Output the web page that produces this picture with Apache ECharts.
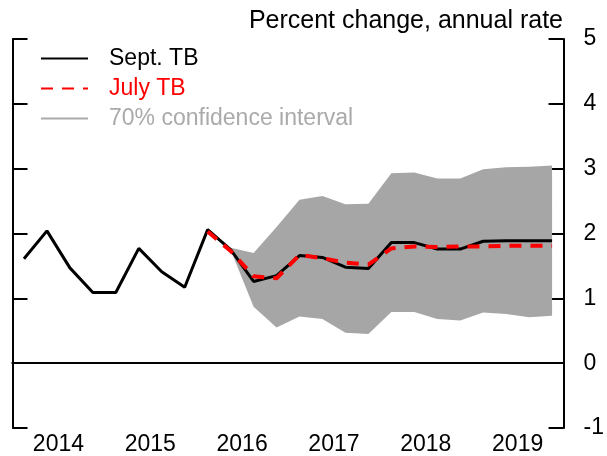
<!DOCTYPE html>
<html>
<head>
<meta charset="utf-8">
<script src="https://cdn.jsdelivr.net/npm/echarts@6/dist/echarts.min.js"></script>
<style>
  html, body { margin: 0; padding: 0; background: #fff; }
  #chart { width: 607px; height: 456px; }
</style>
</head>
<body>
<div id="chart"></div>
<script>
// quarterly categories, 2014Q1 .. 2019Q4
const quarters = [
  '2014Q1','2014Q2','2014Q3','2014Q4','2015Q1','2015Q2','2015Q3','2015Q4',
  '2016Q1','2016Q2','2016Q3','2016Q4','2017Q1','2017Q2','2017Q3','2017Q4',
  '2018Q1','2018Q2','2018Q3','2018Q4','2019Q1','2019Q2','2019Q3','2019Q4',
];
const years = ['2014', '2015', '2016', '2017', '2018', '2019'];

const septTB = [1.61, 2.04, 1.47, 1.09, 1.09, 1.77, 1.41, 1.17,
                2.06, 1.75, 1.26, 1.35, 1.66, 1.63, 1.48, 1.46,
                1.86, 1.86, 1.76, 1.76, 1.88, 1.89, 1.89, 1.89];
const julyTB = [null, null, null, null, null, null, null, null,
                2.03, 1.73, 1.34, 1.31, 1.67, 1.62, 1.55, 1.52,
                1.77, 1.80, 1.79, 1.80, 1.80, 1.81, 1.81, 1.81];
// 70% confidence interval
const bandUpper = [null, null, null, null, null, null, null, null,
                   null, 1.78, 1.70, 2.10, 2.52, 2.58, 2.45, 2.46,
                   2.93, 2.94, 2.85, 2.85, 2.99, 3.02, 3.03, 3.05];
const bandLower = [null, null, null, null, null, null, null, null,
                   null, 1.75, 0.87, 0.55, 0.72, 0.68, 0.47, 0.45,
                   0.79, 0.79, 0.68, 0.66, 0.78, 0.76, 0.71, 0.73];

const FONT = 'Liberation Sans, Arial, sans-serif';
const GRAY = '#a6a6a6';

const lowerData = bandLower.map(v => v == null ? '-' : v);
const spanData  = bandUpper.map((v, i) => v == null ? '-' : +(v - bandLower[i]).toFixed(3));

const chart = echarts.init(document.getElementById('chart'), null, { renderer: 'canvas' });

chart.setOption({
  animation: false,
  backgroundColor: '#fff',
  textStyle: { fontFamily: FONT },
  title: {
    text: 'Percent change, annual rate',
    right: 44, top: 9, padding: 0,
    textStyle: { fontSize: 25, fontWeight: 'normal', color: '#000', fontFamily: FONT },
  },
  legend: {
    orient: 'vertical',
    left: 40, top: 47, padding: 0,
    itemWidth: 47, itemHeight: 14, itemGap: 7,
    itemStyle: { opacity: 0 },
    textStyle: { fontSize: 23, fontFamily: FONT, padding: [0, 0, 0, 16] },
    data: [
      { name: 'Sept. TB', textStyle: { color: '#000' } },
      { name: 'July TB', textStyle: { color: '#ff0000' } },
      { name: '70% confidence interval', textStyle: { color: '#aaaaaa' } },
    ],
  },
  grid: { left: 12.5, right: 35, top: 39, bottom: 26, containLabel: false },
  xAxis: [
    {
      type: 'category', data: quarters, position: 'bottom', boundaryGap: true,
      axisLine: { lineStyle: { color: '#000', width: 2 } },
      axisTick: { inside: true, length: 10, lineStyle: { color: '#000', width: 2 } },
      axisLabel: { show: false },
      splitLine: { show: false },
    },
    {
      type: 'category', data: years, position: 'bottom', boundaryGap: true,
      axisLine: { lineStyle: { color: '#000', width: 2 } },
      axisTick: { inside: true, length: 22, lineStyle: { color: '#000', width: 2 } },
      axisLabel: { color: '#000', fontSize: 23, fontFamily: FONT, margin: 5 },
      splitLine: { show: false },
    },
  ],
  yAxis: [
    {
      type: 'value', position: 'right', min: -1, max: 5, interval: 1,
      axisLine: { show: true, lineStyle: { color: '#000', width: 2 } },
      axisTick: { show: true, inside: true, length: 15, lineStyle: { color: '#000', width: 2 } },
      axisLabel: { color: '#000', fontSize: 23, fontFamily: FONT, margin: 20 },
      splitLine: { show: false },
    },
    {
      type: 'value', position: 'left', min: -1, max: 5, interval: 1,
      axisLine: { show: true, lineStyle: { color: '#000', width: 2 } },
      axisTick: { show: true, inside: true, length: 15, lineStyle: { color: '#000', width: 2 } },
      axisLabel: { show: false },
      splitLine: { show: false },
    },
  ],
  series: [
    {
      name: 'bandLower', type: 'line', stack: 'band', data: lowerData,
      symbol: 'none', silent: true,
      lineStyle: { width: 0, opacity: 0 },
    },
    {
      name: 'bandSpan', type: 'line', stack: 'band', data: spanData,
      symbol: 'none', silent: true,
      lineStyle: { width: 0, opacity: 0 },
      areaStyle: { color: GRAY, opacity: 1 },
    },
    {
      name: '70% confidence interval', type: 'line', data: [],
      symbol: 'none', color: '#aaaaaa',
      lineStyle: { color: '#aaaaaa', width: 4 },
    },
    {
      name: 'Sept. TB', type: 'line', data: septTB,
      symbol: 'none', color: '#000',
      lineStyle: { color: '#000', width: 3 },
      markLine: {
        silent: true, symbol: 'none', label: { show: false },
        lineStyle: { color: '#000', width: 1, type: 'solid' },
        data: [{ yAxis: 0 }],
      },
    },
    {
      name: 'July TB', type: 'line', data: julyTB,
      symbol: 'none', color: '#ff0000',
      lineStyle: { color: '#ff0000', width: 4, type: [12, 9] },
    },
  ],
});
</script>
</body>
</html>
